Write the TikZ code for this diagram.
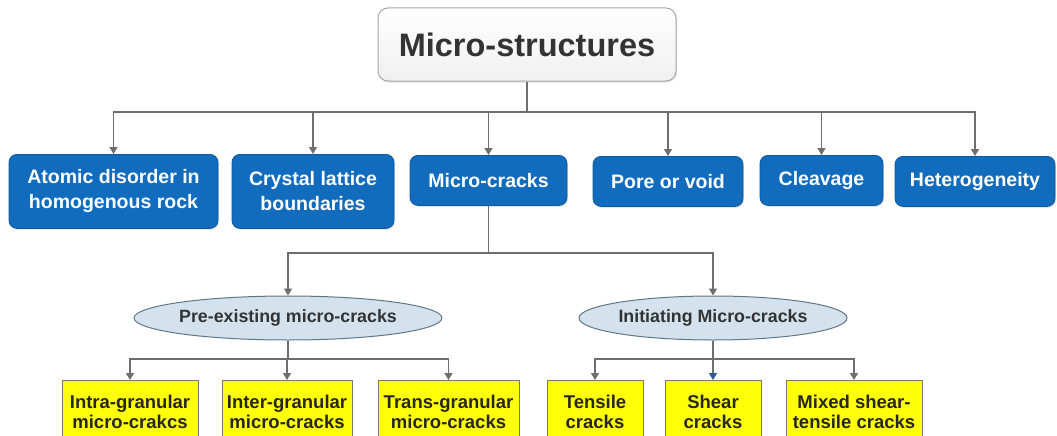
\documentclass[tikz,border=0pt]{standalone}
\usepackage{fontspec}
\setmainfont{Liberation Sans}
\usepackage{tikz}
\usetikzlibrary{arrows.meta,positioning,calc,shapes.geometric,shadows}
\definecolor{clTitle}{HTML}{333333}
\definecolor{clBlue}{HTML}{116CBE}
\definecolor{clBlueEdge}{HTML}{0F5A9E}
\definecolor{clOval}{HTML}{D3E2EC}
\definecolor{clOvalEdge}{HTML}{5F7888}
\definecolor{clYellow}{HTML}{FFFF0A}
\definecolor{clYellowEdge}{HTML}{7A7A6A}
\definecolor{clLink}{HTML}{6E6E6E}
\definecolor{clShear}{HTML}{2F5B95}
\tikzset{
  rootbox/.style={rectangle, rounded corners=10pt, draw=gray!70, line width=1pt,
                  top color=white, bottom color=gray!12, minimum width=298pt, minimum height=73pt,
                  drop shadow={opacity=0.2, shadow xshift=1pt, shadow yshift=-1.5pt},
                  font=\fontsize{32.5}{36}\selectfont\bfseries, text=clTitle},
  kind/.style={rectangle, rounded corners=8pt, draw=clBlueEdge, fill=clBlue, line width=0.8pt,
               drop shadow={opacity=0.2, shadow xshift=1pt, shadow yshift=-1.5pt},
               text=white, align=center, anchor=north, minimum height=50pt, inner sep=2pt,
               font=\fontsize{19.5}{25}\selectfont\bfseries},
  group/.style={ellipse, draw=clOvalEdge, fill=clOval, line width=1pt, inner sep=0pt,
                minimum height=44pt, font=\fontsize{17.8}{20}\selectfont\bfseries, text=clTitle},
  crack/.style={rectangle, draw=clYellowEdge, fill=clYellow, line width=1pt, align=center,
                anchor=north, minimum height=62pt, inner sep=2pt,
                font=\fontsize{18.5}{20}\selectfont\bfseries, text=black!85},
  flow/.style={-{Triangle[length=7pt,width=8pt]}, line width=1.4pt, draw=clLink},
  trunk/.style={line width=1.4pt, draw=clLink},
}
\begin{document}
\begin{tikzpicture}[x=1pt, y=-1pt]
  \path[use as bounding box, fill=white] (0,0) rectangle (1057,436);
  \clip (0,0) rectangle (1057,436);
  % root and first level
  \node[rootbox] (root) at (527,44.5) {Micro-structures};
  \coordinate (bus) at (527,112);
  \node[kind, minimum width=209pt, minimum height=74pt] (atomic) at (113.5,154) {Atomic disorder in\\homogenous rock};
  \node[kind, minimum width=162pt, minimum height=74pt] (crystal) at (313,154) {Crystal lattice\\boundaries};
  \node[kind, minimum width=157pt] (cracks) at (488.5,155) {Micro-cracks};
  \node[kind, minimum width=150pt] (pore) at (668,156) {Pore or void};
  \node[kind, minimum width=123pt] (cleave) at (821.5,155) {Cleavage};
  \node[kind, minimum width=160pt] (hetero) at (975,156) {Heterogeneity};
  \draw[trunk] (root.south) -- (bus);
  \draw[flow] (bus) -| (atomic.north); \draw[flow] (bus) -| (crystal.north);
  \draw[flow] (bus) -| (cracks.north); \draw[flow] (bus) -| (pore.north);
  \draw[flow] (bus) -| (cleave.north); \draw[flow] (bus) -| (hetero.north);
  % micro-crack groups
  \coordinate (cbus) at (488.5,253);
  \node[group, minimum width=275pt] (pre) at (288,318) {Pre-existing micro-cracks};
  \node[group, minimum width=268pt] (init) at (713,318) {Initiating Micro-cracks};
  \draw[trunk] (cracks.south) -- (cbus);
  \draw[flow] (cbus) -| (pre.north); \draw[flow] (cbus) -| (init.north);
  % pre-existing kinds
  \coordinate (pbus) at (288,359);
  \node[crack, minimum width=136pt] (intra) at (130,380) {Intra-granular\\micro-crakcs};
  \node[crack, minimum width=130pt] (inter) at (287,380) {Inter-granular\\micro-cracks};
  \node[crack, minimum width=141pt] (trans) at (448.5,380) {Trans-granular\\micro-cracks};
  \draw[trunk] (pre.south) -- (pbus);
  \draw[flow] (pbus) -| (intra.north); \draw[flow] (pbus) -| (inter.north); \draw[flow] (pbus) -| (trans.north);
  % initiating kinds
  \coordinate (ibus) at (713,359);
  \node[crack, minimum width=96pt] (tensile) at (595,380) {Tensile\\cracks};
  \node[crack, minimum width=96pt] (shear) at (713,380) {Shear\\cracks};
  \node[crack, minimum width=136pt] (mixed) at (854,380) {Mixed shear-\\tensile cracks};
  \draw[trunk] (init.south) -- (ibus);
  \draw[flow] (ibus) -| (tensile.north); \draw[flow] (ibus) -| (mixed.north);
  \draw[flow, -{Triangle[length=7pt,width=8pt,color=clShear]}] (ibus) -- (shear.north);
\end{tikzpicture}
\end{document}
